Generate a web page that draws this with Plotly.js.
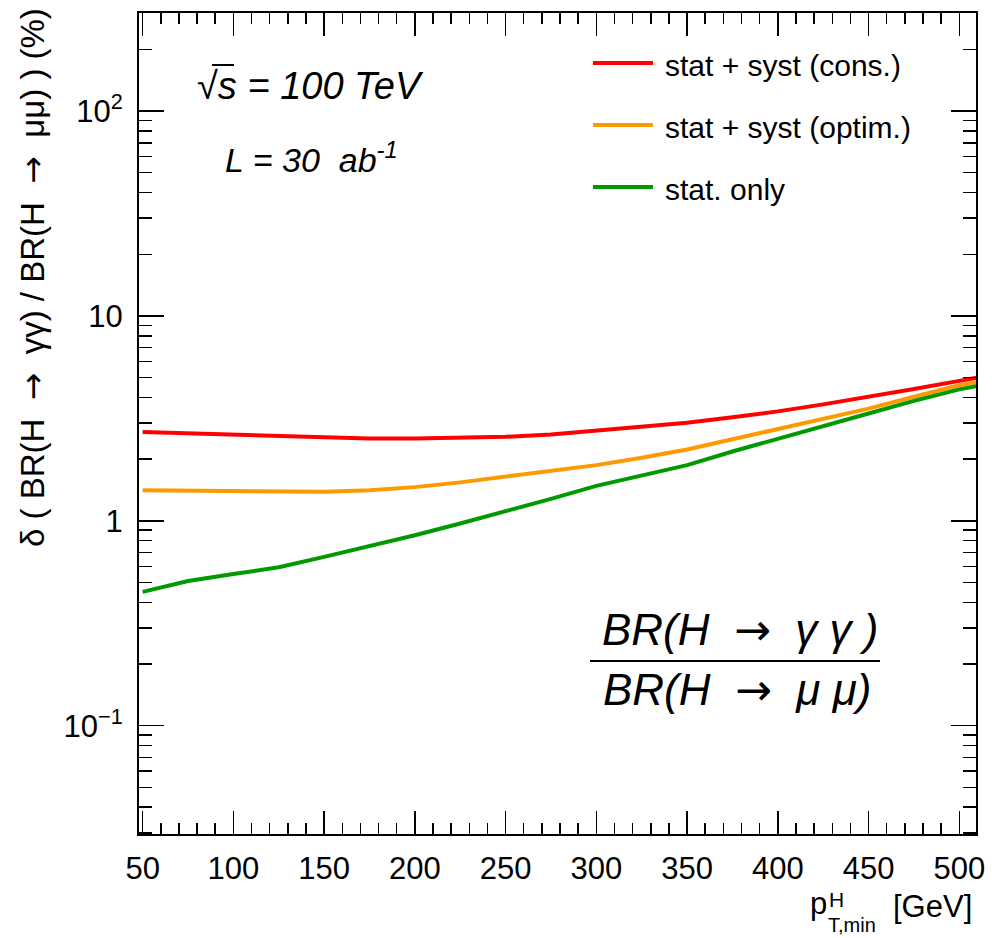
<!DOCTYPE html>
<html>
<head>
<meta charset="utf-8">
<script src="https://cdn.plot.ly/plotly-3.0.1.min.js"></script>
<style>
  html, body { margin: 0; padding: 0; background: #fff; }
  #chart { width: 992px; height: 938px; }
</style>
</head>
<body>
<div id="chart"></div>
<script>
// Minimum Higgs pT threshold (GeV)
const pTmin = [50, 75, 100, 125, 150, 175, 200, 225, 250, 275, 300, 325, 350, 375, 400, 425, 450, 475, 500, 510];

// Relative precision on BR(H->gamma gamma)/BR(H->mu mu), in %
const statSystCons  = [2.71, 2.67, 2.63, 2.58, 2.54, 2.52, 2.52, 2.54, 2.57, 2.64, 2.75, 2.87, 3.01, 3.20, 3.42, 3.70, 4.02, 4.40, 4.82, 5.00];
const statSystOptim = [1.41, 1.40, 1.39, 1.38, 1.385, 1.41, 1.46, 1.54, 1.64, 1.75, 1.87, 2.03, 2.23, 2.50, 2.80, 3.15, 3.53, 4.03, 4.59, 4.75];
const statOnly      = [0.45, 0.508, 0.55, 0.593, 0.667, 0.75, 0.85, 0.97, 1.11, 1.28, 1.48, 1.66, 1.87, 2.18, 2.52, 2.92, 3.34, 3.85, 4.38, 4.55];

const seriesNames  = ['stat + syst (cons.)', 'stat + syst (optim.)', 'stat. only'];
const seriesColors = ['#ff0000', '#ff9900', '#009900'];
const seriesValues = [statSystCons, statSystOptim, statOnly];

// y-axis labels
const yTickVals = [0.1, 1, 10, 100];
const yTickText = ['10<sup>\u22121</sup>', '1', '10', '10<sup>2</sup>'];
const yMinorVals = [];
[0.01, 0.1, 1, 10, 100].forEach(d => { for (let k = 2; k <= 9; k++) yMinorVals.push(d * k); });

// frame geometry in page pixels
const W = 992, H = 938;
const L = 139, R = 976, T = 13, B = 834;
const px = p => (p - L) / (R - L);
const py = p => (B - p) / (B - T);

const FONT = 'Liberation Sans, Arial, Helvetica, sans-serif';
const ARROW = '<span style="font-family:DejaVu Sans">\u2192</span>';
const SP2 = '\u00a0\u00a0';

const traces = seriesValues.map((vals, i) => ({
  x: pTmin,
  y: vals,
  type: 'scatter',
  mode: 'lines',
  name: seriesNames[i],
  line: { color: seriesColors[i], width: 4 },
  showlegend: false,
  hoverinfo: 'x+y+name'
}));

const annotations = [];
const shapes = [];

// hand-placed legend block
const legendY = [63, 125, 187];
seriesNames.forEach((nm, i) => {
  shapes.push({
    type: 'line', xref: 'paper', yref: 'paper',
    x0: px(593), x1: px(653), y0: py(legendY[i]), y1: py(legendY[i]),
    line: { color: seriesColors[i], width: 4 }
  });
  annotations.push({
    xref: 'paper', yref: 'paper', x: px(663), y: py(legendY[i] + 2),
    xanchor: 'left', yanchor: 'middle', showarrow: false,
    text: nm, font: { family: FONT, size: 30, color: '#000' }
  });
});

// energy / luminosity labels
annotations.push({
  xref: 'paper', yref: 'paper', x: px(310), y: py(86),
  xanchor: 'center', yanchor: 'middle', showarrow: false,
  text: '<i>\u221As = 100 TeV</i>', font: { family: FONT, size: 38, color: '#000' }
});
annotations.push({
  xref: 'paper', yref: 'paper', x: px(311), y: py(158),
  xanchor: 'center', yanchor: 'middle', showarrow: false,
  text: '<i>L = 30\u00a0\u00a0ab<sup>-1</sup></i>', font: { family: FONT, size: 34, color: '#000' }
});

// ratio label
annotations.push({
  xref: 'paper', yref: 'paper', x: px(740), y: py(629),
  xanchor: 'center', yanchor: 'middle', showarrow: false,
  text: '<i>BR(H' + SP2 + ARROW + SP2 + '\u03b3\u00a0\u03b3\u00a0)</i>', font: { family: FONT, size: 44, color: '#000' }
});
annotations.push({
  xref: 'paper', yref: 'paper', x: px(737), y: py(689),
  xanchor: 'center', yanchor: 'middle', showarrow: false,
  text: '<i>BR(H' + SP2 + ARROW + SP2 + '\u03bc\u00a0\u03bc)</i>', font: { family: FONT, size: 44, color: '#000' }
});
shapes.push({
  type: 'line', xref: 'paper', yref: 'paper',
  x0: px(590), x1: px(880), y0: py(661), y1: py(661),
  line: { color: '#000', width: 2 }
});

// y-axis title
annotations.push({
  xref: 'paper', yref: 'paper', x: px(32), y: py(278),
  xanchor: 'center', yanchor: 'middle', showarrow: false, textangle: -90,
  text: '\u03b4 ( BR(H' + SP2 + ARROW + SP2 + '\u03b3\u03b3) / BR(H' + SP2 + ARROW + SP2 + '\u03bc\u03bc) ) (%)',
  font: { family: FONT, size: 33, color: '#000' }
});

// x-axis title: p with stacked H / T,min
annotations.push({
  xref: 'paper', yref: 'paper', x: px(818), y: py(903),
  xanchor: 'center', yanchor: 'middle', showarrow: false,
  text: 'p', font: { family: FONT, size: 31, color: '#000' }
});
annotations.push({
  xref: 'paper', yref: 'paper', x: px(836), y: py(899),
  xanchor: 'center', yanchor: 'middle', showarrow: false,
  text: 'H', font: { family: FONT, size: 21, color: '#000' }
});
annotations.push({
  xref: 'paper', yref: 'paper', x: px(852), y: py(925),
  xanchor: 'center', yanchor: 'middle', showarrow: false,
  text: 'T,min', font: { family: FONT, size: 20, color: '#000' }
});
annotations.push({
  xref: 'paper', yref: 'paper', x: px(932), y: py(906),
  xanchor: 'center', yanchor: 'middle', showarrow: false,
  text: '[GeV]', font: { family: FONT, size: 31, color: '#000' }
});

// overline over the "s" under the radical sign
shapes.push({
  type: 'line', xref: 'paper', yref: 'paper',
  x0: px(212), x1: px(234), y0: py(65), y1: py(65),
  line: { color: '#000', width: 2 }
});

const layout = {
  width: W, height: H,
  margin: { l: L, r: W - R, t: T, b: H - B, pad: 0 },
  paper_bgcolor: '#fff', plot_bgcolor: '#fff',
  showlegend: false,
  font: { family: FONT, color: '#000' },
  xaxis: {
    range: [48, 509.2],
    tickmode: 'linear', tick0: 50, dtick: 50,
    ticks: 'inside', ticklen: 23, tickwidth: 1.5, tickcolor: '#000',
    minor: { dtick: 10, tick0: 50, ticks: 'inside', ticklen: 11, tickwidth: 1.5, tickcolor: '#000', showgrid: false },
    showline: true, linewidth: 2, linecolor: '#000', mirror: 'ticks',
    showgrid: false, zeroline: false,
    tickfont: { family: FONT, size: 31, color: '#000' },
    ticklabelstandoff: 6
  },
  yaxis: {
    type: 'log',
    range: [Math.log10(0.0296), Math.log10(301)],
    tickmode: 'array', tickvals: yTickVals, ticktext: yTickText,
    ticks: 'inside', ticklen: 25, tickwidth: 1.5, tickcolor: '#000',
    minor: { tickmode: 'array', tickvals: yMinorVals, ticks: 'inside', ticklen: 13, tickwidth: 1.5, tickcolor: '#000', showgrid: false },
    showline: true, linewidth: 2, linecolor: '#000', mirror: 'ticks',
    showgrid: false, zeroline: false,
    tickfont: { family: FONT, size: 31, color: '#000' },
    ticklabelstandoff: 8
  },
  annotations: annotations,
  shapes: shapes
};

Plotly.newPlot('chart', traces, layout, { displayModeBar: false, staticPlot: true });
</script>
</body>
</html>
